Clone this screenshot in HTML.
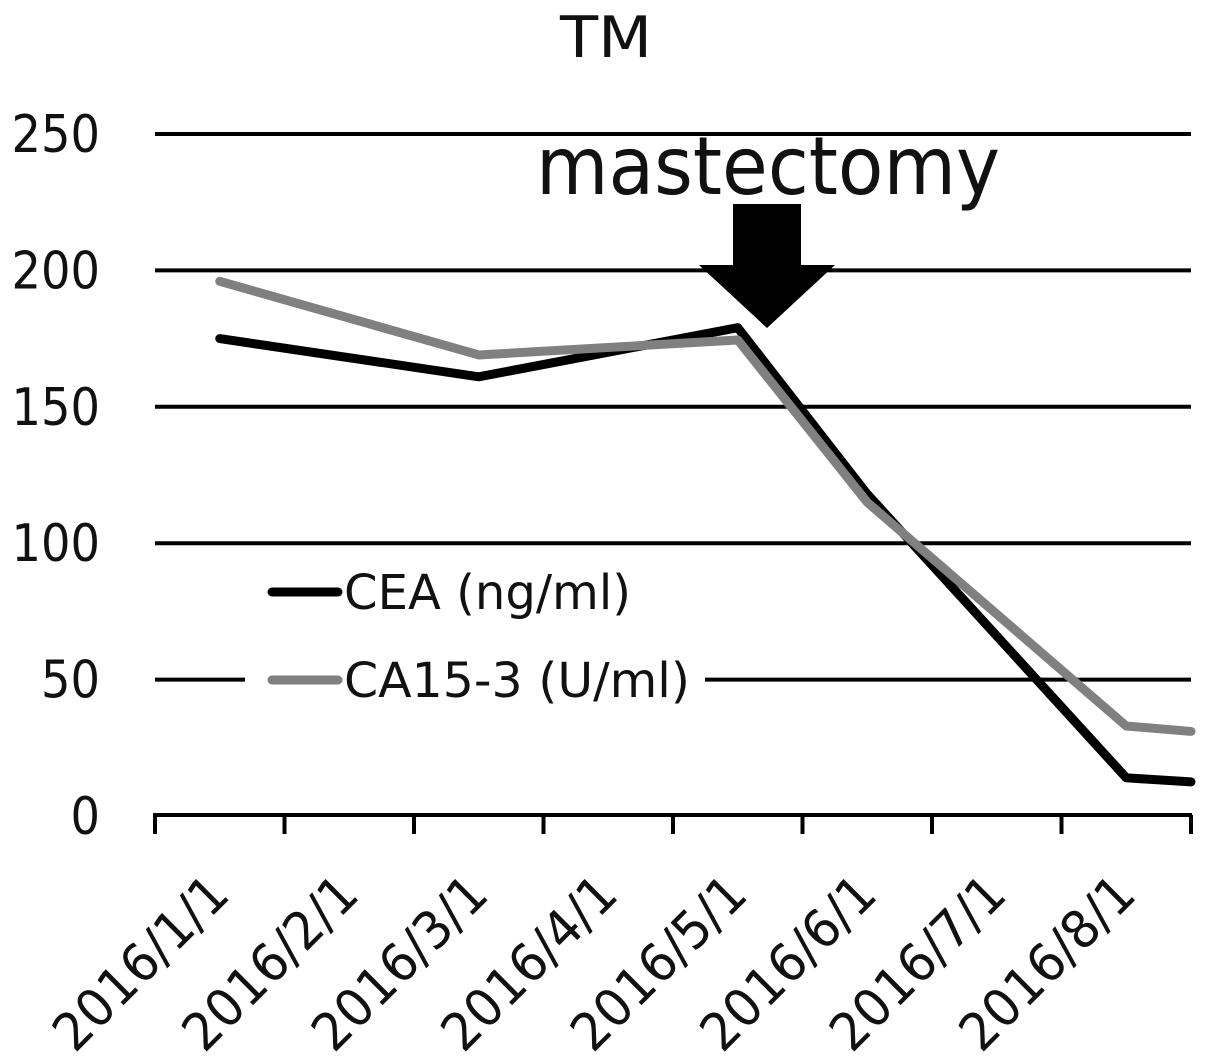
<!DOCTYPE html>
<html>
<head>
<meta charset="utf-8">
<title>TM</title>
<style>
html,body{margin:0;padding:0;background:#fff;width:1205px;height:1064px;overflow:hidden}
svg{display:block}
text{font-family:"DejaVu Sans","Liberation Sans",sans-serif;fill:#111}
</style>
</head>
<body>
<svg id="chart" width="1205" height="1064" viewBox="0 0 1205 1064" xmlns="http://www.w3.org/2000/svg"></svg>
<script>
const monthLabels = ["2016/1/1","2016/2/1","2016/3/1","2016/4/1","2016/5/1","2016/6/1","2016/7/1","2016/8/1"];
const yTicks = [0,50,100,150,200,250];
const sampleMonths = [1,3,5,6,8,8.5];
const ceaValues = [175,161,179,118,14,12.5];
const ca153Values = [196,169,174.5,115,33,31];

const NS = "http://www.w3.org/2000/svg";
const svg = document.getElementById("chart");
const xLeft = 155, xRight = 1191, y0 = 816, y250 = 134;
const bandWidth = (xRight - xLeft) / monthLabels.length;
const xScale = m => xLeft + (m - 0.5) * bandWidth;
const yScale = v => y0 - (v / 250) * (y0 - y250);

function make(tag, attrs, text) {
  const el = document.createElementNS(NS, tag);
  for (const k in attrs) el.setAttribute(k, attrs[k]);
  if (text !== undefined) el.textContent = text;
  svg.appendChild(el);
  return el;
}

const title = make("text", {x:606, y:57, "font-size":57, "text-anchor":"middle", textLength:92, lengthAdjust:"spacingAndGlyphs"}, "TM");



yTicks.forEach(t => {
  if (t > 0) {
    const g = make("line", {x1:xLeft, x2:xRight, y1:yScale(t), y2:yScale(t), stroke:"#000", "stroke-width":4});
    
    
  }
  const lab = make("text", {x:100, y:yScale(t) + 18, "font-size":52, "text-anchor":"end", textLength:String(t).length * 29.5, lengthAdjust:"spacingAndGlyphs"}, String(t));
  
  
});

const axis = make("line", {x1:xLeft - 2, x2:xRight + 1, y1:y0 - 1, y2:y0 - 1, stroke:"#000", "stroke-width":4});



for (let i = 0; i <= monthLabels.length; i++) {
  const x = xLeft + i * bandWidth;
  const tick = make("line", {x1:x, x2:x, y1:y0 - 1, y2:y0 + 18, stroke:"#000", "stroke-width":4});
  
  
}

monthLabels.forEach((label, i) => {
  const x = xScale(i + 1) + 12;
  const y = 897;
  const t = make("text", {x:x, y:y, "font-size":52, "text-anchor":"end", transform:"rotate(-45 " + x + " " + y + ")", textLength:222, lengthAdjust:"spacingAndGlyphs"}, label);
  
  
});

const legendBg = make("rect", {x:245, y:565, width:460, height:140, fill:"#fff"});



function seriesLine(values, color, name) {
  const pts = sampleMonths.map((m, i) => xScale(m) + "," + yScale(values[i])).join(" ");
  const p = make("polyline", {points:pts, fill:"none", stroke:color, "stroke-width":9, "stroke-linejoin":"round", "stroke-linecap":"round"});
  
  
}
seriesLine(ceaValues, "#000", "cea-line");
seriesLine(ca153Values, "#808080", "ca15-3-line");

const arrow = make("polygon", {points:"733,204 801,204 801,265 835,265 767,328 699,265 733,265", fill:"#000"});



const anno = make("text", {x:768, y:194, "font-size":80, "text-anchor":"middle", textLength:464, lengthAdjust:"spacingAndGlyphs"}, "mastectomy");



const s1 = make("line", {x1:272, x2:338, y1:592, y2:592, stroke:"#000", "stroke-width":9, "stroke-linecap":"round"});


const l1 = make("text", {x:344, y:609, "font-size":48, textLength:287, lengthAdjust:"spacingAndGlyphs"}, "CEA (ng/ml)");


const s2 = make("line", {x1:272, x2:338, y1:680, y2:680, stroke:"#808080", "stroke-width":9, "stroke-linecap":"round"});


const l2 = make("text", {x:344, y:697, "font-size":48, textLength:346, lengthAdjust:"spacingAndGlyphs"}, "CA15-3 (U/ml)");


</script>
</body>
</html>
